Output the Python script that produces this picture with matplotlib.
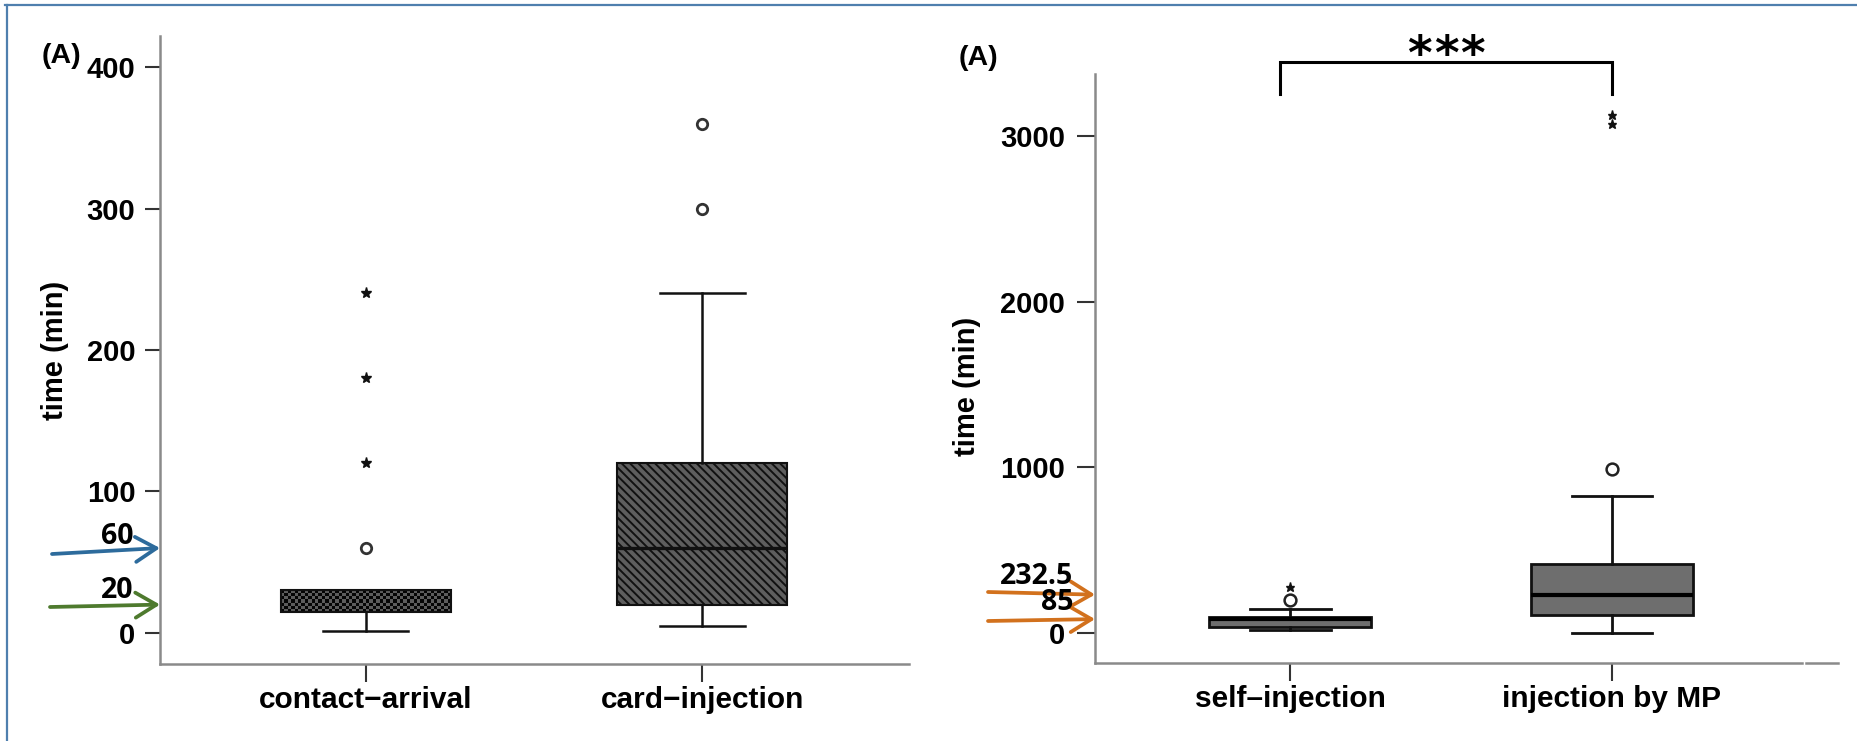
import numpy as np
import matplotlib
matplotlib.use("Agg")
import matplotlib.pyplot as plt
from matplotlib.colors import ListedColormap
from matplotlib.lines import Line2D

# ---------------- data ----------------
left_labels = ["contact\u2212arrival", "card\u2212injection"]
left_q1 = [15, 20]
left_med = [20, 60]
left_q3 = [30, 120]
left_whislo = [1, 5]
left_whishi = [30, 240]
left_circles = [[60], [300, 360]]
left_stars = [[120, 180, 240], []]
left_yticks = [0, 100, 200, 300, 400]
left_callouts = [60, 20]

right_labels = ["self\u2013injection", "injection by MP"]
right_q1 = [40, 110]
right_med = [85, 232.5]
right_q3 = [95, 420]
right_whislo = [20, 0]
right_whishi = [148, 825]
right_circles = [[200], [990]]
right_stars = [[280], [3074, 3128]]
right_yticks = [0, 1000, 2000, 3000]
right_callouts = [232.5, 85]

# ---------------- style ----------------
plt.rcParams["font.family"] = ["Liberation Sans", "DejaVu Sans"]
plt.rcParams["font.weight"] = "bold"
plt.rcParams["hatch.linewidth"] = 1.4

W, H, DPI = 1857, 741, 100
SPINE = "#8a8a8a"
TICK = "#333333"
FRAME = "#4f7fae"


def fx(px):
    return px / W


def fy(py):
    return 1 - py / H


fig = plt.figure(figsize=(W / DPI, H / DPI), dpi=DPI)
fig.patch.set_facecolor("white")

axL = fig.add_axes([fx(160), fy(664), fx(909 - 160), (664 - 36) / H])
axR = fig.add_axes([fx(1095), fy(663), fx(1802 - 1095), (663 - 74) / H])


def box_stats(q1, med, q3, lo, hi, labels):
    return [dict(q1=a, med=b, q3=c, whislo=d, whishi=e, fliers=[], label=l)
            for a, b, c, d, e, l in zip(q1, med, q3, lo, hi, labels)]


def style_axes(ax, yticks, ytick_len, ypad):
    for side in ("top", "right"):
        ax.spines[side].set_visible(False)
    for side in ("left", "bottom"):
        ax.spines[side].set_color(SPINE)
        ax.spines[side].set_linewidth(1.8)
    ax.set_yticks(yticks)
    ax.tick_params(axis="y", length=ytick_len, width=1.5, color=TICK,
                   pad=ypad, labelsize=21)
    ax.tick_params(axis="x", length=13, width=1.5, color=TICK,
                   pad=3, labelsize=21.5)
    ax.set_facecolor("white")


# ---------------- left panel ----------------
BW_L = 0.505
bL = axL.bxp(box_stats(left_q1, left_med, left_q3, left_whislo, left_whishi, left_labels),
             positions=[1, 2], widths=BW_L, capwidths=BW_L / 2, patch_artist=True,
             showfliers=False,
             boxprops=dict(edgecolor="#111111", linewidth=1.5),
             medianprops=dict(color="#111111", linewidth=2.4),
             whiskerprops=dict(color="#111111", linewidth=1.8),
             capprops=dict(color="#111111", linewidth=1.8))

# checkered fill for the first box
box1 = bL["boxes"][0]
box1.set_facecolor("none")
box1.set_zorder(3)
checker = np.indices((7, 50)).sum(axis=0) % 2
im = axL.imshow(checker, cmap=ListedColormap(["#050505", "#5c5c5c"]),
                extent=[1 - BW_L / 2, 1 + BW_L / 2, left_q1[0], left_q3[0]],
                aspect="auto", interpolation="nearest", origin="lower", zorder=2.5)
im.set_clip_path(box1)

# diagonal-hatched fill for the second box
box2 = bL["boxes"][1]
box2.set_facecolor("#5e5e5e")
box2.set_hatch("\\\\\\\\")

for i, vals in enumerate(left_circles):
    axL.plot([i + 1] * len(vals), vals, "o", ms=7.5, mfc="none", mec="#333333",
             mew=2.0, zorder=4)
for i, vals in enumerate(left_stars):
    if vals:
        axL.plot([i + 1] * len(vals), vals, "*", ms=8, color="#111111", zorder=4)

axL.set_xlim(0.389, 2.614)
axL.set_ylim(-22, 422)
style_axes(axL, left_yticks, 10.8, 7)
axL.set_xticks([1, 2], left_labels)

# ---------------- right panel ----------------
BW_R = 0.504
bR = axR.bxp(box_stats(right_q1, right_med, right_q3, right_whislo, right_whishi, right_labels),
             positions=[1, 2], widths=BW_R, capwidths=0.249, patch_artist=True,
             showfliers=False,
             boxprops=dict(facecolor="#6e6e6e", edgecolor="#111111", linewidth=2.0),
             medianprops=dict(color="#000000", linewidth=3.0),
             whiskerprops=dict(color="#111111", linewidth=2.0),
             capprops=dict(color="#111111", linewidth=2.0))

for i, vals in enumerate(right_circles):
    axR.plot([i + 1] * len(vals), vals, "o", ms=8.5, mfc="none", mec="#222222",
             mew=1.8, zorder=4)
for i, vals in enumerate(right_stars):
    axR.plot([i + 1] * len(vals), vals, "*", ms=6.5, color="#111111", zorder=4)

axR.set_xlim(0.392, 2.591)
axR.set_ylim(-180, 3375)
style_axes(axR, right_yticks, 13, 8.5)
axR.set_xticks([1, 2], right_labels)

# significance bracket with three spaced asterisks
axR.plot([0.967, 0.967, 2.0, 2.0], [3252, 3448, 3448, 3252], color="black",
         lw=2.2, clip_on=False, solid_joinstyle="miter")
for dx in (-0.082, 0.0, 0.082):
    axR.text(1.4835 + dx, 3405, "*", ha="center", va="baseline", fontsize=34,
             family="DejaVu Sans", fontweight="bold", clip_on=False)

# ---------------- panel tags and axis titles ----------------
fig.text(fx(61), fy(56), "(A)", ha="center", va="center", fontsize=20.5)
fig.text(fx(978), fy(58), "(A)", ha="center", va="center", fontsize=20.5)
fig.text(fx(55), fy(350), "time (min)", ha="center", va="center",
         rotation=90, fontsize=21)
fig.text(fx(967), fy(386), "time (min)", ha="center", va="center",
         rotation=90, fontsize=21)


# ---------------- call-out arrows ----------------
def callout(ax, value, tail, color):
    ax.annotate("", xy=(0, value), xycoords=ax.get_yaxis_transform(),
                xytext=(tail[0], H - tail[1]), textcoords="figure pixels",
                annotation_clip=False,
                arrowprops=dict(arrowstyle="->,head_length=0.75,head_width=0.45",
                                color=color, lw=2.7, mutation_scale=20,
                                shrinkA=0, shrinkB=0))


callout(axL, left_callouts[0], (52, 554), "#2d6b9c")
callout(axL, left_callouts[1], (50, 607), "#4e7a2e")
callout(axR, right_callouts[0], (988, 592), "#d2711d")
callout(axR, right_callouts[1], (988, 621), "#d2711d")

ann_font = dict(family=["Open Sans", "DejaVu Sans"], fontweight="bold", fontsize=20.5)
fig.text(fx(117), fy(536), f"{left_callouts[0]:g}", ha="center", va="center", **ann_font)
fig.text(fx(117), fy(590), f"{left_callouts[1]:g}", ha="center", va="center", **ann_font)
fig.text(fx(1073), fy(576), f"{right_callouts[0]:g}", ha="right", va="center", **ann_font)
fig.text(fx(1073), fy(602), f"{right_callouts[1]:g}", ha="right", va="center", **ann_font)

# ---------------- frame and spine stub ----------------
fig.add_artist(Line2D([fx(5), 1], [fy(5), fy(5)], color=FRAME, lw=1.6))
fig.add_artist(Line2D([fx(6.5), fx(6.5)], [fy(5), 0], color=FRAME, lw=1.6))
fig.add_artist(Line2D([fx(1806), fx(1838)], [fy(663), fy(663)], color=SPINE, lw=1.8))

fig.savefig("out.png", dpi=DPI)
